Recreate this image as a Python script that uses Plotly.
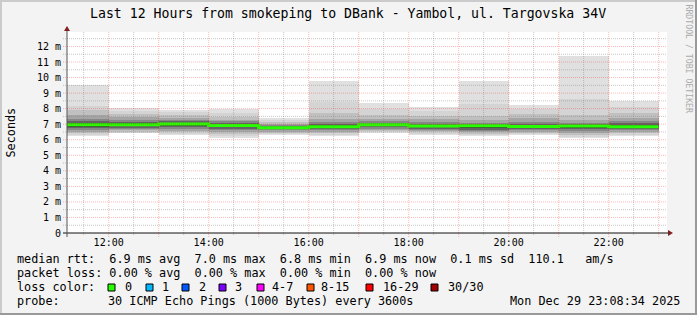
import plotly.graph_objects as go

# ---------------- data ----------------
bar_start = ["2025-12-29 11:00", "2025-12-29 12:00", "2025-12-29 13:00", "2025-12-29 14:00",
             "2025-12-29 15:00", "2025-12-29 16:00", "2025-12-29 17:00", "2025-12-29 18:00",
             "2025-12-29 19:00", "2025-12-29 20:00", "2025-12-29 21:00", "2025-12-29 22:00"]
bar_end_last = "2025-12-29 23:00"

median_ms = [6.96, 6.96, 7.01, 6.92, 6.77, 6.84, 6.97, 6.88, 6.90, 6.85, 6.88, 6.84]

# smoke bands (outer -> inner), lower / upper edges in ms
band1_lo = [6.26, 6.41, 6.30, 6.13, 6.30, 6.26, 6.45, 6.30, 6.26, 6.30, 6.13, 6.26]
band1_hi = [9.52, 8.05, 7.93, 8.00, 7.37, 9.77, 8.38, 8.08, 9.77, 8.21, 11.40, 8.49]
band2_lo = [6.33, 6.45, 6.38, 6.25, 6.38, 6.33, 6.50, 6.38, 6.33, 6.36, 6.20, 6.33]
band2_hi = [8.15, 7.85, 7.80, 7.70, 7.25, 8.40, 7.95, 7.85, 8.30, 7.95, 8.60, 8.10]
band3_lo = [6.41, 6.52, 6.48, 6.38, 6.45, 6.42, 6.58, 6.47, 6.40, 6.44, 6.30, 6.42]
band3_hi = [7.91, 7.65, 7.60, 7.45, 7.12, 7.75, 7.60, 7.55, 7.55, 7.65, 7.60, 7.72]
band4_lo = [6.52, 6.60, 6.58, 6.50, 6.52, 6.52, 6.65, 6.56, 6.48, 6.52, 6.42, 6.50]
band4_hi = [7.59, 7.45, 7.42, 7.30, 7.02, 7.35, 7.35, 7.32, 7.25, 7.40, 7.25, 7.42]
band5_lo = [6.62, 6.68, 6.70, 6.60, 6.60, 6.60, 6.72, 6.64, 6.56, 6.60, 6.55, 6.60]
band5_hi = [7.35, 7.30, 7.30, 7.18, 6.95, 7.12, 7.20, 7.15, 7.08, 7.15, 7.08, 7.20]
band6_lo = [6.75, 6.78, 6.80, 6.70, 6.66, 6.68, 6.80, 6.72, 6.65, 6.68, 6.66, 6.68]
band6_hi = [7.20, 7.17, 7.20, 7.08, 6.90, 7.00, 7.10, 7.02, 6.98, 7.00, 6.98, 7.05]
band7_lo = [6.85, 6.87, 6.90, 6.80, 6.72, 6.76, 6.88, 6.80, 6.75, 6.76, 6.76, 6.76]
band7_hi = [7.08, 7.07, 7.10, 7.00, 6.84, 6.92, 7.04, 6.95, 6.94, 6.93, 6.94, 6.94]

y_tick_vals = [0, 1, 2, 3, 4, 5, 6, 7, 8, 9, 10, 11, 12]
y_tick_text = ["0", "1 m", "2 m", "3 m", "4 m", "5 m", "6 m", "7 m", "8 m", "9 m", "10 m", "11 m", "12 m"]
x_tick_vals = ["2025-12-29 12:00", "2025-12-29 14:00", "2025-12-29 16:00",
               "2025-12-29 18:00", "2025-12-29 20:00", "2025-12-29 22:00"]
x_tick_text = ["12:00", "14:00", "16:00", "18:00", "20:00", "22:00"]
x_range = ["2025-12-29 11:10:00", "2025-12-29 23:10:00"]
y_range = [0, 12.93]

title_text = "Last 12 Hours from smokeping to DBank - Yambol, ul. Targovska 34V"
legend_line1 = "median rtt:  6.9 ms avg  7.0 ms max  6.8 ms min  6.9 ms now  0.1 ms sd  110.1   am/s"
legend_line2 = "packet loss: 0.00 % avg  0.00 % max  0.00 % min  0.00 % now"
loss_labels = ["0", "1", "2", "3", "4-7", "8-15", "16-29", "30/30"]
loss_colors = ["#26ff00", "#00b8ff", "#0059ff", "#7e00ff", "#ff00ff", "#ff5500", "#ff0000", "#a10000"]
probe_text = "30 ICMP Echo Pings (1000 Bytes) every 3600s"
date_text = "Mon Dec 29 23:08:34 2025"

# ---------------- layout geometry ----------------
W, H = 697, 315
ML, MR, MT, MB = 67, 30, 32, 82
PW = W - ML - MR
PH = H - MT - MB
FONT = "DejaVu Sans Mono"


def px(x):
    return (x - ML) / PW


def py(y):
    return (H - MB - y) / PH


fig = go.Figure()

bands = [(band1_lo, band1_hi), (band2_lo, band2_hi), (band3_lo, band3_hi), (band4_lo, band4_hi),
         (band5_lo, band5_hi), (band6_lo, band6_hi), (band7_lo, band7_hi)]
shades = [224, 212, 192, 165, 135, 100, 62]
for (lo, hi), s in zip(bands, shades):
    fig.add_trace(go.Bar(
        x=bar_start, y=[h - l for l, h in zip(lo, hi)], base=lo,
        width=3600000, offset=0,
        marker=dict(color="rgb(%d,%d,%d)" % (s, s, s), line=dict(width=0)),
        hoverinfo="skip", showlegend=False))

fig.add_trace(go.Scatter(
    x=bar_start + [bar_end_last], y=median_ms + [median_ms[-1]],
    mode="lines", line=dict(color="#26ff00", width=3, shape="hv"),
    hoverinfo="skip", showlegend=False))

shapes = []
# horizontal grid
minor_c = "rgba(130,130,130,0.45)"
major_c = "rgba(255,0,0,0.28)"
for k in range(1, 26):
    v = k * 0.5
    major = (k % 2 == 0)
    shapes.append(dict(type="line", xref="paper", yref="y", x0=px(63), x1=1, y0=v, y1=v,
                       line=dict(color=major_c if major else minor_c, width=1, dash="1px,1px"),
                       layer="above"))
# vertical grid
for k in range(23, 47):
    hh = k // 2
    mm = 30 if k % 2 else 0
    t = "2025-12-29 %02d:%02d" % (hh, mm)
    major = (mm == 0)
    shapes.append(dict(type="line", xref="x", yref="paper", x0=t, x1=t,
                       y0=py(237 if major else 235), y1=1,
                       line=dict(color=major_c if major else minor_c, width=1, dash="1px,1px"),
                       layer="above"))
# axes
shapes.append(dict(type="line", xref="paper", yref="paper", x0=px(63), x1=px(668), y0=0, y1=0,
                   line=dict(color="#111111", width=1), layer="above"))
shapes.append(dict(type="line", xref="paper", yref="paper", x0=0, x1=0, y0=py(237), y1=py(30),
                   line=dict(color="#555555", width=1), layer="above"))
# arrows
shapes.append(dict(type="path", xref="paper", yref="paper",
                   path="M %f %f L %f %f L %f %f Z" % (px(64), py(31), px(70), py(31), px(67), py(26)),
                   fillcolor="#7f1f1f", line=dict(width=0), layer="above"))
shapes.append(dict(type="path", xref="paper", yref="paper",
                   path="M %f %f L %f %f L %f %f Z" % (px(668), py(230), px(668), py(236), px(673), py(233)),
                   fillcolor="#7f1f1f", line=dict(width=0), layer="above"))
# border (3D shade)
shapes += [
    dict(type="rect", xref="paper", yref="paper", x0=px(0), x1=px(W), y0=py(0), y1=py(2),
         fillcolor="#cbcbcb", line=dict(width=0)),
    dict(type="rect", xref="paper", yref="paper", x0=px(0), x1=px(2), y0=py(0), y1=py(H),
         fillcolor="#cbcbcb", line=dict(width=0)),
    dict(type="rect", xref="paper", yref="paper", x0=px(0), x1=px(W), y0=py(H - 2), y1=py(H),
         fillcolor="#999999", line=dict(width=0)),
    dict(type="rect", xref="paper", yref="paper", x0=px(W - 2), x1=px(W), y0=py(0), y1=py(H),
         fillcolor="#999999", line=dict(width=0)),
]
# loss colour boxes
box_x = [108, 146, 182, 219, 257, 307, 366, 431]
lab_x = [123, 160, 197, 233, 270, 319, 381, 446]
for bx, c in zip(box_x, loss_colors):
    shapes.append(dict(type="rect", xref="paper", yref="paper", x0=px(bx), x1=px(bx + 7),
                       y0=py(291), y1=py(284), fillcolor=c, line=dict(color="#000000", width=1)))

ann = []


def txt(x, y, s, size=11.8, anchor="left", color="#000000", angle=0):
    ann.append(dict(x=px(x), y=py(y), xref="paper", yref="paper", text=s, showarrow=False,
                    xanchor=anchor, yanchor="middle", textangle=angle,
                    font=dict(family=FONT, size=size, color=color)))


txt(347.5, 13.5, title_text, size=13.2, anchor="center")
txt(10, 132.5, "Seconds", size=11.8, anchor="center", angle=-90)
txt(688.5, 59, "RRDTOOL / TOBI OETIKER", size=8.2, anchor="center", color="#ababab", angle=90)
txt(15, 259, legend_line1.replace(" ", "&nbsp;"))
txt(15, 273, legend_line2.replace(" ", "&nbsp;"))
txt(15, 287, "loss&nbsp;color:")
for lx, lab in zip(lab_x, loss_labels):
    txt(lx, 287, lab)
txt(15, 301, "probe:")
txt(106, 301, probe_text.replace(" ", "&nbsp;"))
txt(682, 301, date_text.replace(" ", "&nbsp;"), anchor="right")

fig.update_layout(
    width=W, height=H, margin=dict(l=ML, r=MR, t=MT, b=MB, pad=0),
    paper_bgcolor="#f3f3f3", plot_bgcolor="#ffffff",
    barmode="overlay", bargap=0, showlegend=False,
    shapes=shapes, annotations=ann,
    xaxis=dict(type="date", range=x_range, tickvals=x_tick_vals, ticktext=x_tick_text,
               showgrid=False, zeroline=False, showline=False, ticks="",
               ticklabelstandoff=2,
               tickfont=dict(family=FONT, size=10, color="#000000"), fixedrange=True),
    yaxis=dict(range=y_range, tickvals=y_tick_vals, ticktext=y_tick_text,
               showgrid=False, zeroline=False, showline=False, ticks="",
               ticklabelstandoff=5,
               tickfont=dict(family=FONT, size=10, color="#000000"), fixedrange=True),
)

fig.write_html("out.html", config={"displayModeBar": False})
